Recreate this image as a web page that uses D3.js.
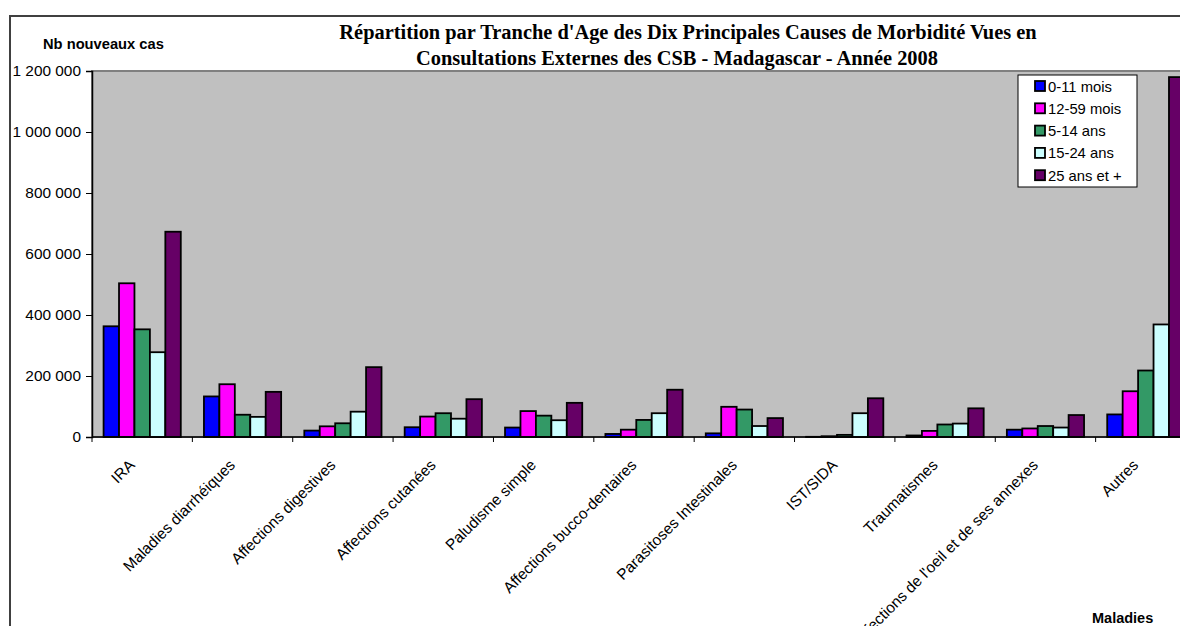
<!DOCTYPE html>
<html>
<head>
<meta charset="utf-8">
<style>
  body { margin: 0; background: #ffffff; }
  text { font-family: "Liberation Sans", Arial, sans-serif; fill: #000; }
  .title { font-family: "Liberation Serif", "Times New Roman", serif; font-weight: bold; }
</style>
</head>
<body>
<script src="https://cdn.jsdelivr.net/npm/d3@7"></script>
<script>
// chart values
var categories = ["IRA", "Maladies diarrhéiques", "Affections digestives", "Affections cutanées",
  "Paludisme simple", "Affections bucco-dentaires", "Parasitoses Intestinales", "IST/SIDA",
  "Traumatismes", "Affections de l'oeil et de ses annexes", "Autres"];
var series = ["0-11 mois", "12-59 mois", "5-14 ans", "15-24 ans", "25 ans et +"];
var v0_11  = [363000, 133000, 21000, 32000, 31000, 10000, 12000, 600, 5000, 24000, 74000];
var v12_59 = [504000, 173000, 35000, 67000, 85000, 24000, 99000, 2500, 20000, 28000, 150000];
var v5_14  = [353000, 73000, 45000, 78000, 70000, 56000, 90000, 7000, 41000, 36000, 218000];
var v15_24 = [278000, 66000, 83000, 60000, 55000, 78000, 36000, 78000, 44000, 31000, 369000];
var v25    = [673000, 148000, 229000, 124000, 112000, 155000, 62000, 127000, 94000, 72000, 1180000];
var yTicks = [0, 200000, 400000, 600000, 800000, 1000000, 1200000];

var colors = ["#0000ff", "#ff00ff", "#339966", "#ccffff", "#660066"];
var values = [v0_11, v12_59, v5_14, v15_24, v25];

var W = 1180, H = 626;
var plot = {left: 92, top: 71, bottom: 437, right: 1196};

var svg = d3.select("body").append("svg")
  .attr("width", W).attr("height", H);

// chart frame
svg.append("rect")
  .attr("x", 10).attr("y", 16)
  .attr("width", 1300).attr("height", 700)
  .attr("fill", "#fff").attr("stroke", "#404040").attr("stroke-width", 2);

var x0 = d3.scaleBand().domain(categories).range([plot.left, plot.right]).padding(0);
var x1 = d3.scaleBand().domain(series).range([0, x0.bandwidth()])
  .paddingInner(0).paddingOuter(0.75);
var y = d3.scaleLinear().domain([0, 1200000]).range([plot.bottom, plot.top]);

// plot area
svg.append("rect")
  .attr("x", plot.left).attr("y", plot.top)
  .attr("width", plot.right - plot.left).attr("height", plot.bottom - plot.top)
  .attr("fill", "#c0c0c0").attr("stroke", "#808080").attr("stroke-width", 2);

// bars
var rows = [];
categories.forEach(function(c, i) {
  series.forEach(function(s, j) {
    rows.push({cat: c, ser: s, v: values[j][i], col: colors[j]});
  });
});
svg.append("g").selectAll("rect")
  .data(rows).enter().append("rect")
  .attr("x", function(d) { return x0(d.cat) + x1(d.ser); })
  .attr("y", function(d) { return y(d.v); })
  .attr("width", x1.bandwidth())
  .attr("height", function(d) { return plot.bottom - y(d.v); })
  .attr("fill", function(d) { return d.col; })
  .attr("stroke", "#000").attr("stroke-width", 1.8);

// y axis
var fmt = function(d) { return d3.format(",")(d).replace(/,/g, " "); };
var yAxis = svg.append("g")
  .attr("transform", "translate(" + plot.left + ",0)")
  .call(d3.axisLeft(y).tickValues(yTicks).tickFormat(fmt).tickSize(6).tickPadding(5));
yAxis.select(".domain").attr("stroke", "#000").attr("stroke-width", 1.5);
yAxis.selectAll("text").style("font-size", "15.4px").style("font-family", "Liberation Sans, Arial, sans-serif");

// x axis
var boundaries = categories.map(function(c) { return x0(c); });
var xAxis = svg.append("g");
xAxis.append("line")
  .attr("x1", plot.left).attr("x2", plot.right)
  .attr("y1", plot.bottom).attr("y2", plot.bottom)
  .attr("stroke", "#000").attr("stroke-width", 1.5);
xAxis.selectAll(".tk").data(boundaries).enter().append("line")
  .attr("x1", function(d) { return d; }).attr("x2", function(d) { return d; })
  .attr("y1", plot.bottom).attr("y2", plot.bottom + 5)
  .attr("stroke", "#000");
xAxis.selectAll(".lbl").data(categories).enter().append("text")
  .attr("transform", function(d) {
    return "translate(" + (x0(d) + x0.bandwidth() / 2 - 6.5) + "," + (plot.bottom + 29) + ") rotate(-45)";
  })
  .attr("text-anchor", "end")
  .style("font-size", "15.4px")
  .text(function(d) { return d; });

// titles
var title = svg.append("text").attr("class", "title")
  .attr("text-anchor", "middle").style("font-size", "20.4px");
title.append("tspan").attr("x", 688).attr("y", 39)
  .text("Répartition par Tranche d'Age des Dix Principales Causes de Morbidité Vues en");
title.append("tspan").attr("x", 677).attr("y", 65)
  .text("Consultations Externes des CSB - Madagascar - Année 2008");

svg.append("text").attr("x", 43).attr("y", 49)
  .style("font-size", "14.7px").style("font-weight", "bold")
  .text("Nb nouveaux cas");
svg.append("text").attr("x", 1092).attr("y", 623)
  .style("font-size", "14.5px").style("font-weight", "bold")
  .text("Maladies");

// legend
var lg = svg.append("g").attr("transform", "translate(1018,75)");
lg.append("rect").attr("width", 119).attr("height", 112)
  .attr("fill", "#fff").attr("stroke", "#000").attr("stroke-width", 1);
var item = lg.selectAll(".it").data(series).enter().append("g")
  .attr("transform", function(d, i) { return "translate(0," + (11 + i * 22.3) + ")"; });
item.append("rect").attr("x", 17).attr("y", -5).attr("width", 10).attr("height", 10)
  .attr("fill", function(d, i) { return colors[i]; })
  .attr("stroke", "#000").attr("stroke-width", 1.8);
item.append("text").attr("x", 30).attr("y", 5.5)
  .style("font-size", "14.8px")
  .text(function(d) { return d; });
</script>
</body>
</html>
